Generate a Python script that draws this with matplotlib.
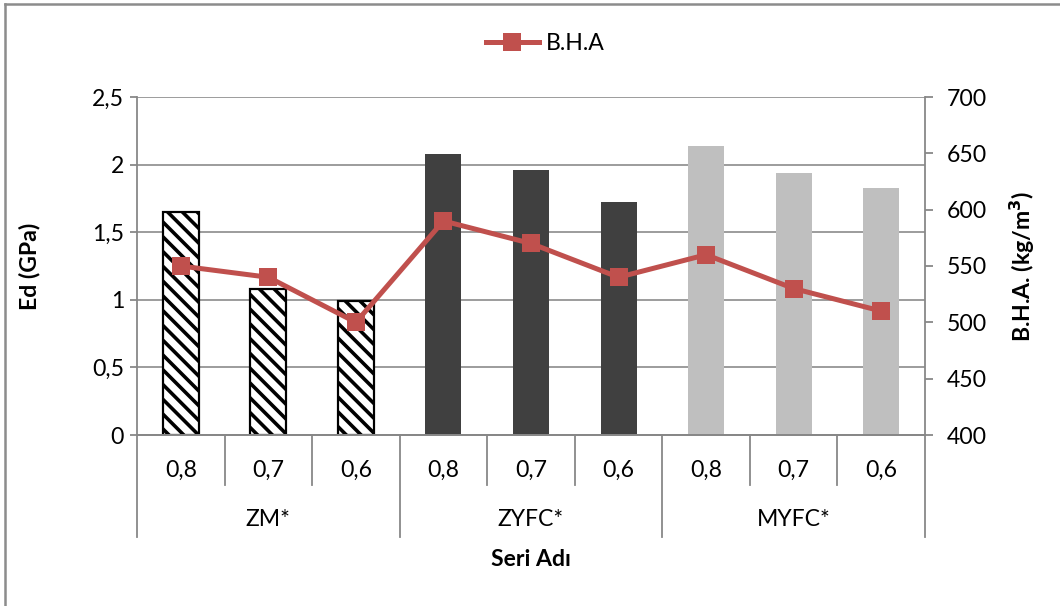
import matplotlib
matplotlib.use("Agg")
import matplotlib.pyplot as plt
from matplotlib.lines import Line2D
from matplotlib.ticker import FuncFormatter, MultipleLocator

# ---- data ----
groups = ["ZM*", "ZYFC*", "MYFC*"]
ratios = ["0,8", "0,7", "0,6"]
ed_zm = [1.65, 1.08, 0.99]
ed_zyfc = [2.08, 1.96, 1.72]
ed_myfc = [2.14, 1.94, 1.83]
bha = [550, 540, 500, 590, 570, 540, 560, 530, 510]

W, H = 1060, 606
DPI = 133.333
def pt(px):
    return px * 72.0 / DPI

plt.rcParams["font.family"] = ["Lato", "DejaVu Sans"]
plt.rcParams["hatch.color"] = "black"
plt.rcParams["hatch.linewidth"] = pt(3.6)

fig = plt.figure(figsize=(W / DPI, H / DPI), dpi=DPI)

# plot area in pixels
L, R, T, B = 137, 925, 97, 435
ax = fig.add_axes([L / W, 1 - B / H, (R - L) / W, (B - T) / H])
ax2 = ax.twinx()

grid_c = "#878787"
fs = pt(23)

n = len(groups) * len(ratios)
xs = list(range(n))
bw = 0.41

ax.bar(xs[0:3], ed_zm, width=bw, color="white", edgecolor="black",
       linewidth=pt(2.2), hatch="\\\\\\", zorder=2)
ax.bar(xs[3:6], ed_zyfc, width=bw, color="#404040", linewidth=0, zorder=2)
ax.bar(xs[6:9], ed_myfc, width=bw, color="#BFBFBF", linewidth=0, zorder=2)

ax.set_xlim(-0.5, n - 0.5)
ax.set_ylim(0, 2.5)
ax.yaxis.set_major_locator(MultipleLocator(0.5))
ax.yaxis.set_major_formatter(FuncFormatter(
    lambda v, p: ("%g" % v).replace(".", ",")))
ax.grid(axis="y", color=grid_c, linewidth=pt(1.6), zorder=0)
ax.set_axisbelow(True)
ax.set_xticks([])

ax2.plot(xs, bha, color="#C0504D", linewidth=pt(5), marker="s",
         markersize=pt(18), markeredgewidth=0, zorder=5, label="B.H.A",
         solid_joinstyle="miter")
ax2.set_ylim(400, 700)
ax2.yaxis.set_major_locator(MultipleLocator(50))

for a in (ax, ax2):
    for s in a.spines.values():
        s.set_color(grid_c)
        s.set_linewidth(pt(1.8))
    a.spines["top"].set_visible(False)
    a.tick_params(axis="y", colors=grid_c, labelcolor="black",
                  labelsize=fs, width=pt(1.8))
ax.tick_params(axis="y", length=pt(7), pad=pt(6))
ax2.tick_params(axis="y", length=pt(8), pad=pt(14))
ax2.spines["left"].set_visible(False)
ax.spines["right"].set_visible(False)

# category separators and labels below the axis
trans = ax.get_xaxis_transform()
axh = B - T
for k in range(n + 1):
    depth = 102 if k % 3 == 0 else 50
    ax.add_line(Line2D([k - 0.5, k - 0.5], [0, -depth / axh], transform=trans,
                       color=grid_c, linewidth=pt(1.8), clip_on=False))
for i in xs:
    ax.text(i, -35 / axh, ratios[i % 3], transform=trans, ha="center",
            va="center", fontsize=fs)
for g, name in enumerate(groups):
    ax.text(3 * g + 1, -85 / axh, name, transform=trans, ha="center",
            va="center", fontsize=fs)
ax.text((n - 1) / 2, -125 / axh, "Seri Adı", transform=trans, ha="center",
        va="center", fontsize=fs, fontweight="bold")

fig.text(30 / W, 1 - 266 / H, "Ed (GPa)", rotation=90, ha="center",
         va="center", fontsize=fs, fontweight="bold")
fig.text(1022 / W, 1 - 266 / H, "B.H.A. (kg/m$^\\mathbf{3}$)", rotation=90,
         ha="center", va="center", fontsize=fs, fontweight="bold")

fig.legend(handles=ax2.get_lines(), loc="center", bbox_to_anchor=(545 / W, 1 - 44 / H),
           frameon=False, fontsize=fs, handlelength=2.3, handletextpad=0.3)

# outer chart frame
frame_c = "#8C8C8C"
fig.add_artist(Line2D([5 / W, 5 / W], [0, 1 - 4 / H], color=frame_c,
                      linewidth=pt(2.5)))
fig.add_artist(Line2D([5 / W, 1], [1 - 4 / H, 1 - 4 / H], color=frame_c,
                      linewidth=pt(2.5)))

fig.savefig("out.png", dpi=DPI)
